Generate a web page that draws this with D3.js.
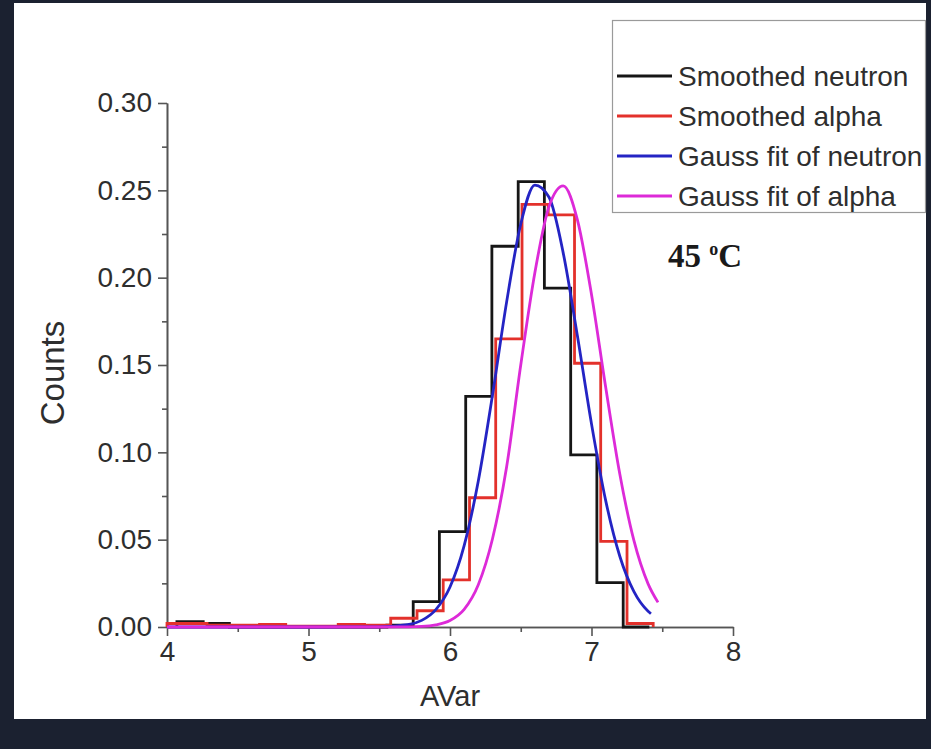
<!DOCTYPE html>
<html>
<head>
<meta charset="utf-8">
<script src="https://cdn.jsdelivr.net/npm/d3@7"></script>
<style>
  html, body { margin: 0; padding: 0; background: #1b2130; }
  svg { display: block; }
</style>
</head>
<body>
<svg id="chart" width="931" height="749"></svg>
<script>
// Histogram of smoothed neutron pulses: bin edges and normalised counts
const neutronEdges = [4.070, 4.256, 4.441, 4.627, 4.812, 4.998, 5.183, 5.369, 5.554, 5.740,
                      5.925, 6.111, 6.296, 6.482, 6.667, 6.853, 7.038, 7.224, 7.409];
const neutronCounts = [0.003, 0.002, 0, 0, 0, 0, 0, 0, 0.001, 0.0145,
                       0.0546, 0.132, 0.218, 0.255, 0.194, 0.0985, 0.0254, 0];

// Histogram of smoothed alpha pulses
const alphaEdges = [4.000, 4.097, 4.283, 4.468, 4.654, 4.839, 5.025, 5.210, 5.396, 5.581,
                    5.767, 5.952, 6.138, 6.323, 6.509, 6.694, 6.880, 7.065, 7.251, 7.436];
const alphaCounts = [0.002, 0.002, 0.001, 0.001, 0.0015, 0.0005, 0.0005, 0.0015, 0.001, 0.005,
                     0.0093, 0.027, 0.074, 0.165, 0.242, 0.236, 0.151, 0.049, 0.002];

// Gaussian fit curves, sampled along AVar
const neutronFitX = [4.0, 5.0, 5.5, 5.7, 5.8, 5.9, 6.0, 6.1, 6.2, 6.3, 6.4, 6.5, 6.6,
                     6.7, 6.8, 6.9, 7.0, 7.1, 7.2, 7.3, 7.4, 7.42];
const neutronFitY = [0, 0, 0.0001, 0.0013, 0.0038, 0.0100, 0.0229, 0.0466, 0.0836, 0.1326,
                     0.186, 0.2307, 0.253, 0.246, 0.2142, 0.1669, 0.1163, 0.0725, 0.0405,
                     0.0202, 0.0090, 0.0076];
const alphaFitX = [4.0, 5.0, 5.5, 5.7, 5.8, 5.9, 6.0, 6.1, 6.2, 6.3, 6.4, 6.5, 6.6,
                   6.7, 6.8, 6.9, 7.0, 7.1, 7.2, 7.3, 7.4, 7.47];
const alphaFitY = [0, 0, 0, 0.0001, 0.0003, 0.0012, 0.0037, 0.0101, 0.0242, 0.0504,
                   0.0916, 0.150, 0.203, 0.2408, 0.2526, 0.2332, 0.1904, 0.1374, 0.0876,
                   0.0494, 0.0247, 0.0141];

// Axis ticks
const xTicks = [4, 5, 6, 7, 8];
const xMinorTicks = [4.5, 5.5, 6.5, 7.5];
const yTicks = [0, 0.05, 0.10, 0.15, 0.20, 0.25, 0.30];
const yMinorTicks = [0.025, 0.075, 0.125, 0.175, 0.225, 0.275];

const seriesNames = ["Smoothed neutron", "Smoothed alpha", "Gauss fit of neutron", "Gauss fit of alpha"];
const seriesColors = ["#161616", "#e3312b", "#2424c4", "#dd2ad8"];

const svg = d3.select("#chart");
const FONT = "'Liberation Sans', Arial, sans-serif";

// white page area
svg.append("rect").attr("x", 14).attr("y", 3).attr("width", 912).attr("height", 716).attr("fill", "#ffffff");

const x = d3.scaleLinear().domain([4, 8]).range([167, 733]);
const y = d3.scaleLinear().domain([0, 0.30]).range([627, 103]);

function styleAxis(g) {
  g.selectAll("path.domain").attr("stroke", "#555").attr("stroke-width", 1.6);
  g.selectAll(".tick line").attr("stroke", "#555").attr("stroke-width", 1.6);
  g.selectAll(".tick text").attr("fill", "#2e2e2e").attr("font-family", FONT).attr("font-size", 28);
}

// minor ticks
svg.append("g").attr("transform", `translate(0,${y(0)})`)
  .call(d3.axisBottom(x).tickValues(xMinorTicks).tickSize(5).tickSizeOuter(0).tickFormat(""))
  .call(styleAxis);
svg.append("g").attr("transform", `translate(${x(4)},0)`)
  .call(d3.axisLeft(y).tickValues(yMinorTicks).tickSize(5).tickSizeOuter(0).tickFormat(""))
  .call(styleAxis);

// major ticks with labels
svg.append("g").attr("transform", `translate(0,${y(0)})`)
  .call(d3.axisBottom(x).tickValues(xTicks).tickSize(9).tickSizeOuter(0).tickPadding(5).tickFormat(d3.format("d")))
  .call(styleAxis);
svg.append("g").attr("transform", `translate(${x(4)},0)`)
  .call(d3.axisLeft(y).tickValues(yTicks).tickSize(9).tickSizeOuter(0).tickPadding(6).tickFormat(d3.format(".2f")))
  .call(styleAxis);

// axis titles
svg.append("text").attr("x", x(6)).attr("y", 706).attr("text-anchor", "middle")
  .attr("font-family", FONT).attr("font-size", 29).attr("fill", "#2e2e2e").text("AVar");
svg.append("text").attr("transform", `translate(64,373) rotate(-90)`).attr("text-anchor", "middle")
  .attr("font-family", FONT).attr("font-size", 33).attr("fill", "#2e2e2e").text("Counts");

// histogram outlines
function stepPoints(edges, counts) {
  const pts = [[edges[0], 0]];
  counts.forEach((c, i) => { pts.push([edges[i], c]); pts.push([edges[i + 1], c]); });
  pts.push([edges[edges.length - 1], 0]);
  return pts;
}
const lineLin = d3.line().x(d => x(d[0])).y(d => y(d[1]));
const lineSmooth = d3.line().x(d => x(d[0])).y(d => y(d[1])).curve(d3.curveMonotoneX);

const plot = svg.append("g").attr("fill", "none").attr("stroke-width", 2.8).attr("stroke-linejoin", "miter");
plot.append("path").attr("d", lineLin(stepPoints(neutronEdges, neutronCounts))).attr("stroke", seriesColors[0]);
plot.append("path").attr("d", lineLin(stepPoints(alphaEdges, alphaCounts))).attr("stroke", seriesColors[1]);
plot.append("path").attr("d", lineSmooth(neutronFitX.map((v, i) => [v, neutronFitY[i]]))).attr("stroke", seriesColors[2]);
plot.append("path").attr("d", lineSmooth(alphaFitX.map((v, i) => [v, alphaFitY[i]]))).attr("stroke", seriesColors[3]);

// legend
const legend = svg.append("g");
legend.append("rect").attr("x", 612.5).attr("y", 20.5).attr("width", 313).attr("height", 192)
  .attr("fill", "none").attr("stroke", "#9a9a9a").attr("stroke-width", 1.2);
seriesNames.forEach((name, i) => {
  const ly = 76 + i * 40;
  legend.append("line").attr("x1", 617).attr("x2", 672).attr("y1", ly).attr("y2", ly)
    .attr("stroke", seriesColors[i]).attr("stroke-width", 3);
  legend.append("text").attr("x", 678).attr("y", ly).attr("dy", "0.36em")
    .attr("font-family", FONT).attr("font-size", 28).attr("fill", "#2e2e2e").text(name);
});

// temperature annotation
const temp = svg.append("text").attr("x", 668).attr("y", 267)
  .attr("font-family", "'Liberation Serif', 'Times New Roman', serif").attr("font-weight", "bold")
  .attr("font-size", 33).attr("fill", "#1a1a1a");
temp.append("tspan").text("45 ");
temp.append("tspan").attr("font-size", 18).attr("dy", -12).text("o");
temp.append("tspan").attr("dy", 12).text("C");
</script>
</body>
</html>
